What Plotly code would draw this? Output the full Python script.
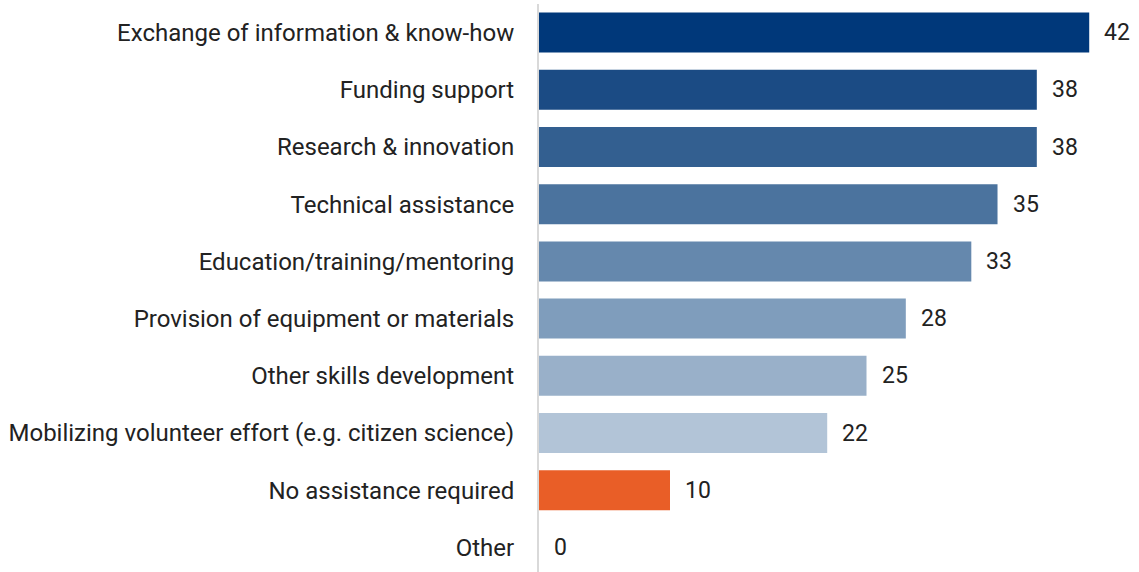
import plotly.graph_objects as go

categories = ["Exchange of information & know-how", "Funding support", "Research & innovation",
              "Technical assistance", "Education/training/mentoring",
              "Provision of equipment or materials", "Other skills development",
              "Mobilizing volunteer effort (e.g. citizen science)", "No assistance required", "Other"]
values = [42, 38, 38, 35, 33, 28, 25, 22, 10, 0]
colors = ["#00387a", "#1b4b84", "#335f90", "#4b739e", "#6588ad", "#7f9dbc", "#99b0c9",
          "#b2c4d7", "#e95e27", "#cccccc"]

fig = go.Figure(go.Bar(
    x=values, y=categories, orientation="h",
    marker=dict(color=colors, line=dict(width=0)),
    hoverinfo="skip",
))
for c, v in zip(categories, values):
    fig.add_annotation(x=v, y=c, text=str(v), showarrow=False, xanchor="left",
                       xshift=13, font=dict(family="Roboto", size=23, color="#222222"))

fig.update_layout(
    width=1139, height=576,
    margin=dict(l=539, r=0, t=4, b=0),
    plot_bgcolor="white", paper_bgcolor="white",
    bargap=0.3, showlegend=False,
    font=dict(family="Roboto", size=24, color="#222222"),
)
fig.update_xaxes(range=[0, 45.8], visible=False)
fig.update_yaxes(autorange="reversed", showline=True, linecolor="#d9d9d9", linewidth=2,
                 ticks="", ticklabelstandoff=18, showgrid=False)
fig.write_html("out.html", config={"displayModeBar": False},
               post_script="document.body.style.margin='0px';document.body.style.overflow='hidden';")
